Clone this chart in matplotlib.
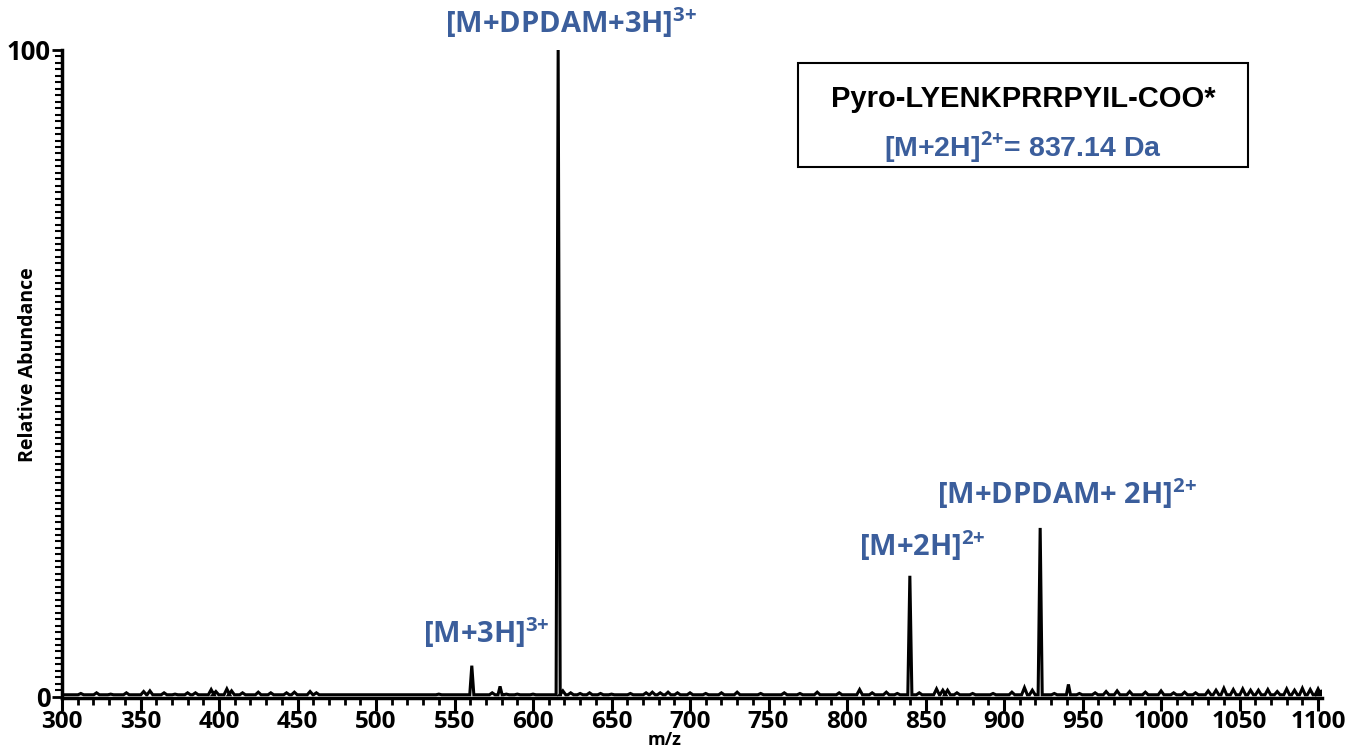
import numpy as np
import matplotlib.pyplot as plt
from matplotlib.ticker import MultipleLocator, FixedLocator
from matplotlib.patches import Rectangle

plt.rcParams['font.family'] = ['Open Sans', 'DejaVu Sans']
plt.rcParams['mathtext.fontset'] = 'custom'
plt.rcParams['mathtext.rm'] = 'Open Sans:bold'
plt.rcParams['mathtext.bf'] = 'Open Sans:bold'

# main peaks (m/z, relative abundance)
peak_mz = [561, 579, 616, 840, 923, 941]
peak_int = [4.8, 1.6, 100, 18.7, 26.1, 1.9]

# baseline noise bumps
noise_mz = [303, 312, 322, 331, 341, 352, 356, 365, 372, 380, 385, 395, 398,
            405, 408, 415, 425, 433, 443, 448, 458, 462, 470, 480, 495, 510,
            520, 532, 540, 550, 574, 583, 590, 600, 607, 619, 624, 630, 636,
            643, 650, 662, 672, 676, 681, 686, 692, 700, 710, 720, 730, 745,
            760, 770, 781, 795, 808, 816, 825, 832, 846, 857, 861, 864, 870,
            880, 893, 905, 913, 918, 932, 948, 958, 965, 972, 980, 990, 1000,
            1008, 1015, 1022, 1030, 1035, 1040, 1046, 1052, 1057, 1062, 1068,
            1074, 1080, 1085, 1090, 1095, 1100, 1102]
noise_int = [0.3, 0.5, 0.6, 0.4, 0.6, 0.8, 0.9, 0.6, 0.4, 0.6, 0.6, 1.1, 0.8,
             1.2, 0.9, 0.6, 0.7, 0.6, 0.6, 0.7, 0.8, 0.6, 0.3, 0.3, 0.3, 0.3,
             0.3, 0.3, 0.4, 0.3, 0.6, 0.4, 0.4, 0.4, 0.3, 0.9, 0.6, 0.5, 0.6,
             0.5, 0.4, 0.5, 0.6, 0.7, 0.6, 0.7, 0.6, 0.6, 0.5, 0.6, 0.7, 0.5,
             0.6, 0.5, 0.7, 0.6, 1.1, 0.6, 0.7, 0.5, 0.6, 1.2, 1.0, 1.0, 0.6,
             0.5, 0.5, 0.7, 1.4, 1.0, 0.5, 0.5, 0.6, 0.8, 0.9, 0.8, 0.7, 0.9,
             0.6, 0.7, 0.6, 0.9, 1.0, 1.3, 1.1, 1.2, 1.0, 1.0, 1.1,
             0.8, 1.2, 1.0, 1.3, 1.1, 1.2, 0.8]

labels = [r'[M+DPDAM+3H]$^{\mathbf{3{+}}}$', r'[M+3H]$^{\mathbf{3{+}}}$',
          r'[M+2H]$^{\mathbf{2{+}}}$', r'[M+DPDAM+ 2H]$^{\mathbf{2{+}}}$']
label_mz = [624, 570.5, 848, 940]
label_y = [104.3, 9.9, 23.3, 31.4]

blue = '#3b5e9c'

# build the profile line: each peak/bump as a narrow triangle on a 0.3 baseline
pts = sorted([(m, h, 1.3) for m, h in zip(peak_mz, peak_int)] +
             [(m, h, 1.8) for m, h in zip(noise_mz, noise_int)])
xs, ys = [300], [0.3]
for m, h, w in pts:
    xs += [m - w, m, m + w]
    ys += [0.3, h, 0.3]

fig = plt.figure(figsize=(13.63, 7.5), dpi=100)
ax = fig.add_axes([62 / 1363, 1 - 698 / 750, 1260 / 1363, 648 / 750])
ax.plot(xs, ys, color='black', lw=2.2, solid_joinstyle='miter')

ax.set_xlim(300, 1102.5)
ax.set_ylim(-0.2, 100)
ax.spines['top'].set_visible(False)
ax.spines['right'].set_visible(False)
ax.spines['left'].set_linewidth(2.5)
ax.spines['bottom'].set_linewidth(2.5)

ax.xaxis.set_major_locator(MultipleLocator(50))
ax.xaxis.set_minor_locator(MultipleLocator(10))
ax.yaxis.set_major_locator(FixedLocator([0, 100]))
ax.yaxis.set_minor_locator(MultipleLocator(1))
ax.tick_params(axis='x', which='major', length=9, width=2.2, labelsize=17.5, pad=0)
ax.tick_params(axis='x', which='minor', length=5, width=2)
ax.tick_params(axis='y', which='major', length=7, width=2, labelsize=18.5, pad=1)
ax.tick_params(axis='y', which='minor', length=5, width=1.5)
for t in ax.get_xticklabels() + ax.get_yticklabels():
    t.set_fontweight('bold')

fig.text(28 / 1363, 1 - 365 / 750, 'Relative Abundance', rotation=90,
         ha='center', va='center', fontsize=14, fontweight='bold')
fig.text(665 / 1363, 1 / 750, 'm/z', ha='center', va='bottom',
         fontsize=13, fontweight='bold')

for lab, mx, my in zip(labels, label_mz, label_y):
    ax.text(mx, my, lab, ha='center', va='center', color=blue, fontsize=21,
            fontweight='bold', clip_on=False)

fig.patches.append(Rectangle((798 / 1363, 1 - 167 / 750), 450 / 1363, 104 / 750,
                             transform=fig.transFigure, fill=False,
                             edgecolor='black', lw=1.5))
fig.text(1023 / 1363, 1 - 99 / 750, 'Pyro-LYENKPRRPYIL-COO*', ha='center',
         va='center', fontsize=21, fontweight='bold', family='Liberation Sans')
fig.text(1023 / 1363, 1 - 147 / 750, r'[M+2H]$^{\mathbf{2{+}}}$= 837.14 Da',
         ha='center', va='center', fontsize=20.5, fontweight='bold',
         family='Liberation Sans', color=blue)

fig.savefig('out.png', dpi=100)
